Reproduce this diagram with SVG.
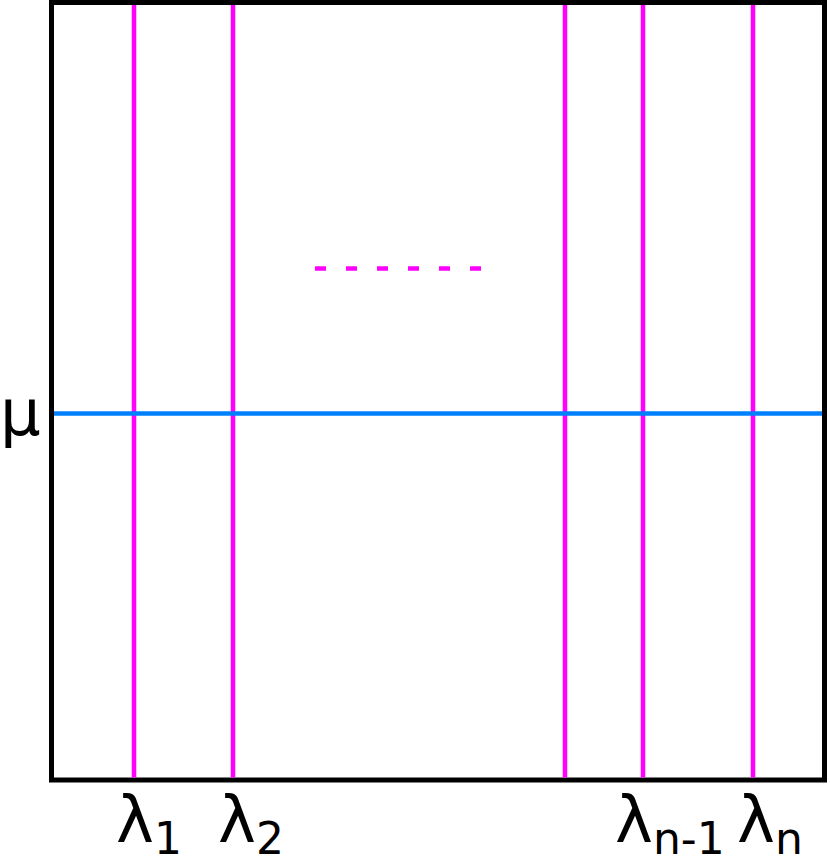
<svg xmlns="http://www.w3.org/2000/svg" width="830" height="859" viewBox="0 0 830 859">
<style>
.frame{fill:none;stroke:#000;stroke-width:5}
.mag{stroke:#ff00ff;stroke-width:4.5;fill:none}
.blue{stroke:#0080ff;stroke-width:4.5;fill:none}
.lab{font-family:"DejaVu Sans",Verdana,sans-serif;font-size:64px;fill:#000}
.sub{font-size:44px}
</style>
<rect id="frame" class="frame" x="51.5" y="2.5" width="773" height="777.5"/>
<g id="connectors">
<line class="mag" x1="134" y1="5" x2="134" y2="777.5"/>
<line class="mag" x1="233" y1="5" x2="233" y2="777.5"/>
<line class="mag" x1="565" y1="5" x2="565" y2="777.5"/>
<line class="mag" x1="643" y1="5" x2="643" y2="777.5"/>
<line class="mag" x1="753" y1="5" x2="753" y2="777.5"/>
<line class="blue" x1="54" y1="413.5" x2="822" y2="413.5"/>
<line class="mag" x1="315" y1="268.5" x2="482" y2="268.5" stroke-width="5.5" stroke-dasharray="11,20"/>
</g>
<g id="labels">
<text class="lab" x="0" y="435">μ</text>
<text class="lab" x="116" y="842">λ<tspan class="sub" dy="12">1</tspan></text>
<text class="lab" x="218" y="842">λ<tspan class="sub" dy="12">2</tspan></text>
<text class="lab" x="615" y="842">λ<tspan class="sub" dy="12">n-1</tspan></text>
<text class="lab" x="737" y="842">λ<tspan class="sub" dy="12">n</tspan></text>
</g>
</svg>
